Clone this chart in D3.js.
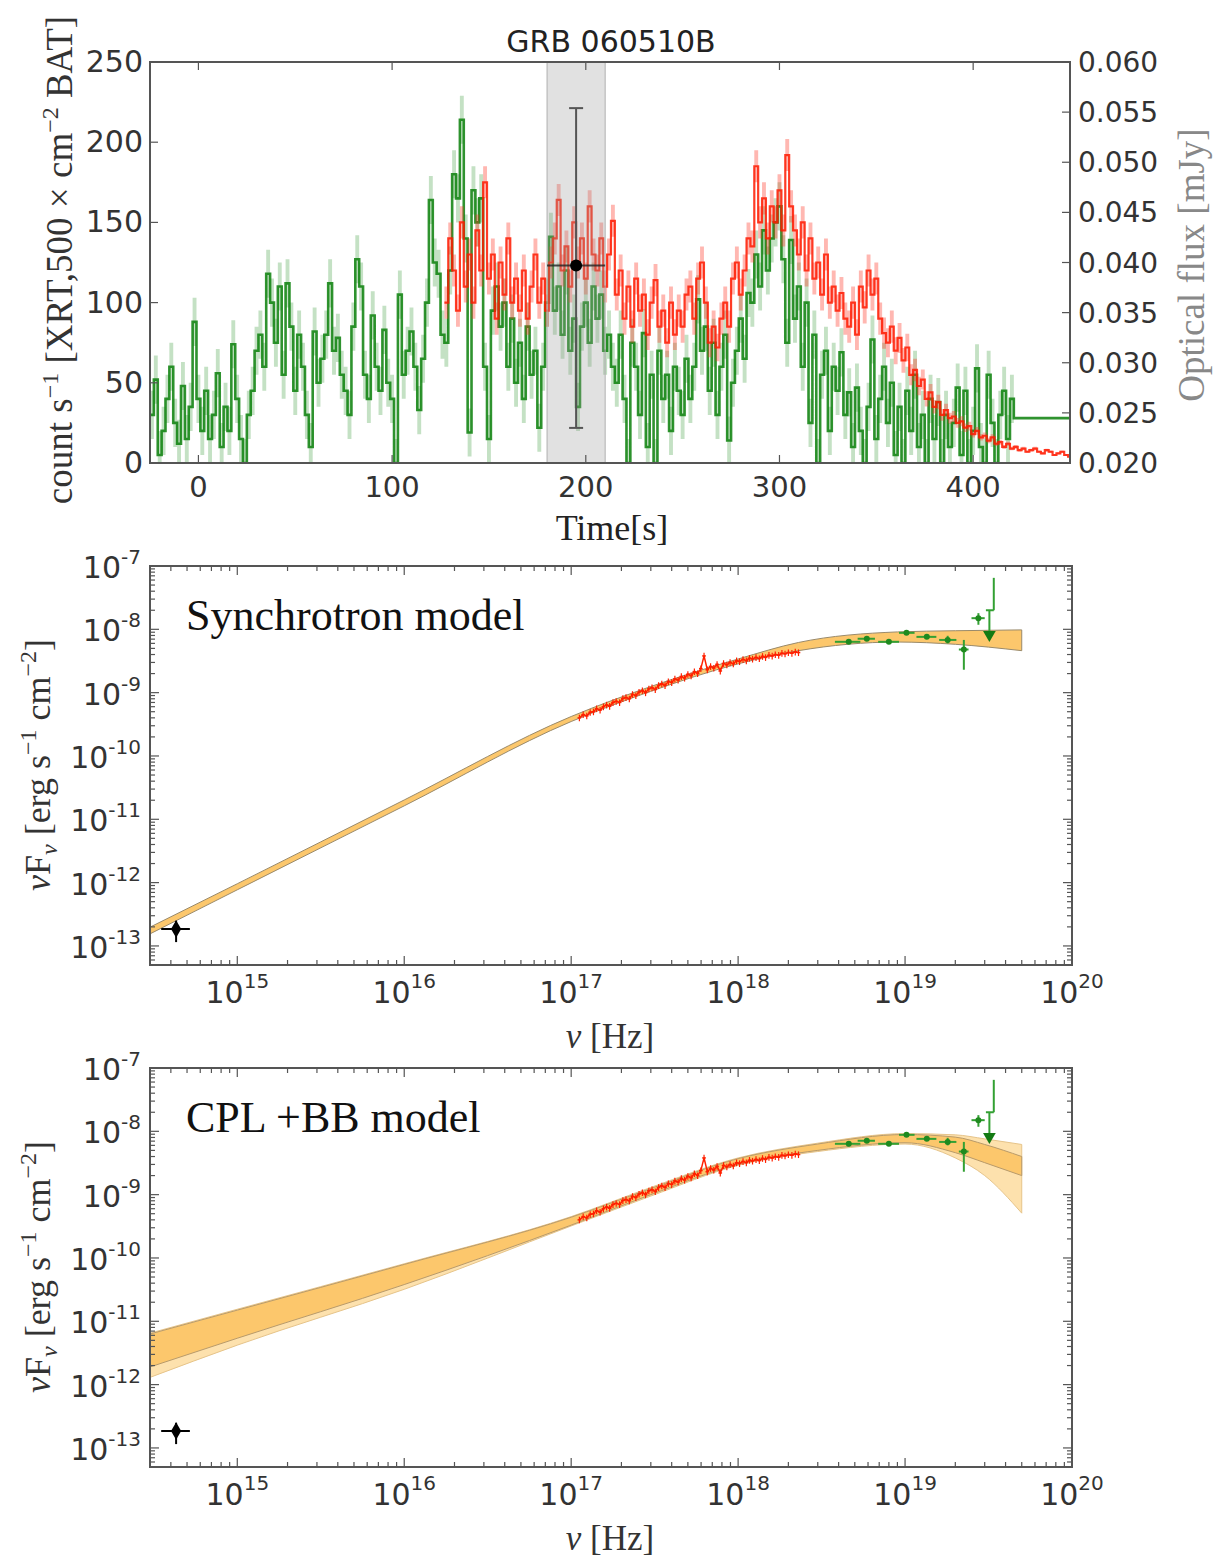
<!DOCTYPE html>
<html>
<head>
<meta charset="utf-8">
<script src="https://cdn.jsdelivr.net/npm/d3@7"></script>
<style>
body { margin: 0; background: #fff; }
</style>
</head>
<body>
<svg id="fig"></svg>
<script>
// ---- light curve data (BAT green, XRT red), 2 s bins ----
let bat_t0 = -25
let bat_dt = 2
let bat_err = 15
let bat_counts = [30,52,5,20,40,60,25,12,48,15,
    35,88,40,20,45,15,30,56,10,35,
    20,74,40,15,0,30,45,70,80,60,
    118,100,75,110,55,112,85,45,80,60,
    30,10,82,50,65,80,112,70,78,55,
    45,30,85,127,110,55,40,92,60,45,
    83,50,40,0,105,55,70,82,60,33,
    65,100,164,125,118,80,75,120,180,165,
    214,140,19,170,150,165,60,15,95,110,
    85,100,60,90,50,75,40,85,55,70,
    22,60,100,141,95,110,80,120,70,90,
    35,85,100,75,110,90,105,70,80,60,
    50,80,40,0,75,60,30,81,10,55,
    0,70,40,55,20,60,45,30,65,40,
    60,102,70,85,45,75,30,60,80,14,
    50,70,90,65,106,100,130,110,145,120,
    140,150,160,127,75,139,90,110,60,100,
    25,80,0,55,70,20,60,45,69,30,
    44,10,47,20,0,35,77,15,40,60,
    25,50,5,35,0,45,20,55,10,30,
    0,40,15,38,0,30,10,25,47,5,
    45,0,20,59,10,0,55,25,0,30,
    45,15,40,
    28,28,28,28,28,28,28,28,28,28,28,28,28,28,28]

let xrt_t0 = 127
let xrt_dt = 2
let xrt_err = 10
let xrt_counts = [100,140,120,95,150,110,130,100,145,120,
    175,115,130,90,125,105,140,100,115,95,
    120,90,110,130,100,115,95,125,140,164,
    120,135,110,150,125,140,115,160,130,120,
    140,110,130,151,105,120,90,110,85,115,
    95,105,80,100,114,85,95,75,100,80,
    95,85,105,110,90,115,125,100,75,85,
    72,90,100,85,115,125,105,120,140,135,
    185,150,165,140,160,150,170,145,192,160,
    145,130,150,120,140,115,125,105,130,100,
    110,95,106,90,85,100,80,110,97,120,
    105,115,90,81,75,85,70,78,64,72,
    55,58,48,52,40,44,35,38,30,33,
    28,29,25,26,22,23,18,20,16,17,
    14,16,12,13,10,12,9,10,8,9,
    7,8,9,7,6,8,7,5,6,7,5,4]

let sed_window = [180, 210]
let opt_time = [195, 180, 210]          // t, t_lo, t_hi
let opt_flux = [0.0397, 0.0235, 0.0554] // flux, lo, hi

let time_ticks = [0, 100, 200, 300, 400]
let count_ticks = [0, 50, 100, 150, 200, 250]
let optflux_ticks = [0.020, 0.025, 0.030, 0.035, 0.040, 0.045, 0.050, 0.055, 0.060]

// ---- SED data ----
let uvot_nu = [4.3e14], uvot_nu_lo = [3.5e14], uvot_nu_hi = [5.2e14]
let uvot_f = [1.85e-13], uvot_f_lo = [1.15e-13], uvot_f_hi = [2.5e-13]

let xrt_nu = [1.12e17,1.18e17,1.24e17,1.30e17,1.36e17,1.42e17,1.49e17,1.56e17,1.63e17,1.70e17,
    1.78e17,1.86e17,1.95e17,2.04e17,2.13e17,2.23e17,2.33e17,2.44e17,2.55e17,2.67e17,
    2.79e17,2.92e17,3.05e17,3.19e17,3.34e17,3.49e17,3.65e17,3.82e17,4.0e17,4.18e17,
    4.37e17,4.57e17,4.78e17,5.0e17,5.23e17,5.47e17,5.72e17,5.98e17,6.25e17,6.54e17,
    6.84e17,7.15e17,7.48e17,7.82e17,8.18e17,8.56e17,8.95e17,9.36e17,9.79e17,1.02e18,
    1.07e18,1.12e18,1.17e18,1.22e18,1.28e18,1.34e18,1.40e18,1.46e18,1.53e18,1.60e18,
    1.67e18,1.75e18,1.83e18,1.91e18,2.0e18,2.1e18,2.2e18,2.3e18]
let xrt_f = [4.0e-10,4.5e-10,4.3e-10,4.9e-10,5.0e-10,5.6e-10,5.3e-10,6.0e-10,6.4e-10,6.1e-10,
    7.0e-10,7.3e-10,7.0e-10,8.1e-10,8.4e-10,8.0e-10,9.4e-10,9.0e-10,1.02e-9,1.08e-9,
    1.0e-9,1.15e-9,1.2e-9,1.12e-9,1.3e-9,1.38e-9,1.3e-9,1.5e-9,1.45e-9,1.65e-9,
    1.58e-9,1.8e-9,1.7e-9,1.95e-9,1.85e-9,2.15e-9,2.0e-9,2.4e-9,3.8e-9,2.3e-9,
    2.6e-9,2.45e-9,2.8e-9,2.2e-9,2.9e-9,2.75e-9,3.0e-9,2.85e-9,3.2e-9,3.1e-9,
    3.35e-9,3.2e-9,3.5e-9,3.4e-9,3.6e-9,3.45e-9,3.75e-9,3.6e-9,3.9e-9,3.8e-9,
    4.0e-9,3.9e-9,4.2e-9,4.1e-9,4.3e-9,4.2e-9,4.4e-9,4.3e-9]

let bat_nu    = [4.6e18,5.9e18,8.0e18,1.02e19,1.35e19,1.8e19,2.25e19,2.75e19,3.2e19,3.4e19]
let bat_nu_lo = [3.8e18,5.2e18,6.9e18,9.2e18,1.17e19,1.6e19,2.1e19,2.5e19,3.2e19,3.05e19]
let bat_nu_hi = [5.4e18,6.6e18,9.2e18,1.14e19,1.54e19,2.03e19,2.4e19,3.0e19,3.2e19,3.4e19]
let bat_f     = [6.35e-9,7.1e-9,6.35e-9,8.8e-9,7.6e-9,6.8e-9,4.8e-9,1.5e-8,8.2e-9,2.0e-8]
let bat_f_lo  = [6.0e-9,6.7e-9,6.0e-9,8.3e-9,7.2e-9,6.0e-9,2.3e-9,1.18e-8,8.2e-9,2.0e-8]
let bat_f_hi  = [6.8e-9,7.5e-9,6.8e-9,9.3e-9,8.0e-9,7.9e-9,6.8e-9,1.8e-8,2.0e-8,6.5e-8]
let bat_mark  = ['o','o','o','o','o','o','o','o','v','']

// synchrotron model band
let syn_nu = [3e14,1e15,1e16,1e17,3e17,1e18,2.3e18,9e18,2e19,5e19]
let syn_lo = [1.55e-13,7.7e-13,1.63e-11,3.5e-10,1.05e-9,2.85e-9,4.6e-9,6.3e-9,5.8e-9,4.6e-9]
let syn_hi = [1.98e-13,9.6e-13,2.02e-11,4.2e-10,1.25e-9,3.4e-9,6.2e-9,9.1e-9,9.5e-9,9.8e-9]

// CPL + BB model bands
let cpl_nu       = [3e14,1e15,1e16,1e17,3e17,1e18,3e18,1e19,2e19,3e19,5e19]
let cpl_outer_lo = [1.3e-12,4.2e-12,3.2e-11,3.2e-10,9.5e-10,2.9e-9,4.8e-9,6.3e-9,3.8e-9,2.0e-9,5.1e-10]
let cpl_inner_lo = [1.9e-12,5.4e-12,3.8e-11,3.3e-10,1.0e-9,3.0e-9,5.0e-9,6.6e-9,4.6e-9,3.2e-9,2.0e-9]
let cpl_inner_hi = [6.3e-12,1.5e-11,7.9e-11,4.4e-10,1.25e-9,3.7e-9,6.3e-9,8.9e-9,8.1e-9,6.2e-9,4.0e-9]
let cpl_outer_hi = [6.5e-12,1.55e-11,8.1e-11,4.5e-10,1.3e-9,3.8e-9,6.5e-9,9.2e-9,8.8e-9,7.6e-9,6.2e-9]

let nu_ticks = [1e15,1e16,1e17,1e18,1e19,1e20]
let nufnu_ticks = [1e-13,1e-12,1e-11,1e-10,1e-9,1e-8,1e-7]

// ---------------------------------------------------------------
let sans = "DejaVu Sans"
let serif = "Liberation Serif"
let tick_col = "#333"
let frame_col = "#555"

let svg = d3.select('#fig')
    .attr('width', 1214)
    .attr('height', 1559)
    .style('font-family', sans)

// ================= top panel: light curves =================
let xT = d3.scaleLinear().domain([-25, 450]).range([150, 1070])
let yL = d3.scaleLinear().domain([0, 250]).range([463, 62])
let yR = d3.scaleLinear().domain([0.02, 0.06]).range([463, 62])

svg.append('clipPath').attr('id', 'clipTop')
    .append('rect').attr('x', 150).attr('y', 62).attr('width', 920).attr('height', 401)

let lc = svg.append('g')
let lcData = lc.append('g').attr('clip-path', 'url(#clipTop)')

let stepLine = d3.line()
    .x(function(d){ return xT(d[0]) })
    .y(function(d){ return yL(d[1]) })
    .curve(d3.curveStepAfter)

// error strip around a step curve; the strip never exceeds a fraction of the value for faint bins
function stepArea(err, frac) {
    return d3.area()
        .x(function(d){ return xT(d[0]) })
        .y0(function(d){ return yL(Math.max(0, d[1] - Math.min(err, d[1] * frac))) })
        .y1(function(d){ return yL(d[1] + Math.min(err, Math.max(d[1], 1) * frac)) })
        .curve(d3.curveStepAfter)
}

let batPts = bat_counts.map(function(c, i){ return [bat_t0 + i * bat_dt, c] })
batPts.push([bat_t0 + bat_counts.length * bat_dt, bat_counts[bat_counts.length - 1]])
let xrtPts = xrt_counts.map(function(c, i){ return [xrt_t0 + i * xrt_dt, c] })
xrtPts.push([xrt_t0 + xrt_counts.length * xrt_dt, xrt_counts[xrt_counts.length - 1]])

lcData.append('path').datum(batPts.slice(0, 224))
    .attr('d', stepArea(bat_err, 100))
    .attr('fill', '#3a9a3a')
    .attr('fill-opacity', 0.3)

lcData.append('path').datum(batPts)
    .attr('d', stepLine)
    .attr('fill', 'none')
    .attr('stroke', '#0a800a')
    .attr('stroke-width', 2.6)
    .attr('stroke-opacity', 0.85)

lcData.append('path').datum(xrtPts)
    .attr('d', stepArea(xrt_err, 0.12))
    .attr('fill', '#ff3020')
    .attr('fill-opacity', 0.35)

lcData.append('path').datum(xrtPts)
    .attr('d', stepLine)
    .attr('fill', 'none')
    .attr('stroke', '#ff1a00')
    .attr('stroke-width', 2.2)
    .attr('stroke-opacity', 0.85)

// grey window of the SED
lcData.append('rect')
    .attr('x', xT(sed_window[0]))
    .attr('y', 62)
    .attr('width', xT(sed_window[1]) - xT(sed_window[0]))
    .attr('height', 401)
    .attr('fill', '#9a9a9a')
    .attr('fill-opacity', 0.3)
    .attr('stroke', '#b0b0b0')
    .attr('stroke-width', 1)

// optical point with error bars (right axis)
let ox = xT(opt_time[0]), oy = yR(opt_flux[0])
lc.append('line')
    .attr('x1', ox).attr('x2', ox)
    .attr('y1', yR(opt_flux[1])).attr('y2', yR(opt_flux[2]))
    .attr('stroke', '#555').attr('stroke-width', 2)
lc.selectAll('line.cap').data([opt_flux[1], opt_flux[2]]).enter()
    .append('line')
    .attr('x1', ox - 7).attr('x2', ox + 7)
    .attr('y1', function(d){ return yR(d) }).attr('y2', function(d){ return yR(d) })
    .attr('stroke', '#555').attr('stroke-width', 2)
lc.append('line')
    .attr('x1', xT(opt_time[1])).attr('x2', xT(opt_time[2]))
    .attr('y1', oy).attr('y2', oy)
    .attr('stroke', '#222').attr('stroke-width', 2).attr('stroke-opacity', 0.8)
lc.append('circle').attr('cx', ox).attr('cy', oy).attr('r', 6).attr('fill', '#000')

// frame + ticks
lc.append('rect').attr('x', 150).attr('y', 62).attr('width', 920).attr('height', 401)
    .attr('fill', 'none').attr('stroke', frame_col).attr('stroke-width', 2)

time_ticks.forEach(function(t){
    let x = xT(t)
    lc.append('line').attr('x1', x).attr('x2', x).attr('y1', 463).attr('y2', 455)
        .attr('stroke', frame_col).attr('stroke-width', 1.2)
    lc.append('line').attr('x1', x).attr('x2', x).attr('y1', 62).attr('y2', 70)
        .attr('stroke', frame_col).attr('stroke-width', 1.2)
    lc.append('text').attr('x', x).attr('y', 497)
        .attr('text-anchor', 'middle').attr('font-size', 29).attr('fill', tick_col)
        .text(t)
})
count_ticks.forEach(function(c){
    let y = yL(c)
    lc.append('line').attr('x1', 150).attr('x2', 158).attr('y1', y).attr('y2', y)
        .attr('stroke', frame_col).attr('stroke-width', 1.2)
    lc.append('text').attr('x', 143).attr('y', y + 10)
        .attr('text-anchor', 'end').attr('font-size', 30).attr('fill', tick_col)
        .text(c)
})
optflux_ticks.forEach(function(f){
    let y = yR(f)
    lc.append('line').attr('x1', 1062).attr('x2', 1070).attr('y1', y).attr('y2', y)
        .attr('stroke', frame_col).attr('stroke-width', 1.2)
    lc.append('text').attr('x', 1078).attr('y', y + 10)
        .attr('text-anchor', 'start').attr('font-size', 28).attr('fill', tick_col)
        .text(d3.format('.3f')(f))
})

lc.append('text').attr('x', 611).attr('y', 52).attr('text-anchor', 'middle')
    .attr('font-size', 30).attr('fill', '#222').text('GRB 060510B')

lc.append('text').attr('x', 612).attr('y', 540).attr('text-anchor', 'middle')
    .attr('font-family', serif).attr('font-size', 36).attr('fill', '#222').text('Time[s]')

// left label (rotated)
let ll = lc.append('text')
    .attr('transform', 'translate(72,260) rotate(-90)')
    .attr('text-anchor', 'middle')
    .attr('font-family', serif).attr('font-size', 37).attr('fill', '#333')
ll.append('tspan').text('count s')
ll.append('tspan').attr('dy', -14).attr('font-size', 24).text('\u22121')
ll.append('tspan').attr('dy', 14).text(' [XRT,500 \u00d7 cm')
ll.append('tspan').attr('dy', -14).attr('font-size', 24).text('\u22122')
ll.append('tspan').attr('dy', 14).text(' BAT]')

lc.append('text')
    .attr('transform', 'translate(1204,265) rotate(-90)')
    .attr('text-anchor', 'middle')
    .attr('font-family', serif).attr('font-size', 37).attr('fill', '#888')
    .text('Optical flux [mJy]')

// ================= SED panels =================
function sedPanel(top_y, name, drawModel) {
    let x = d3.scaleLog().domain([3e14, 1e20]).range([150, 1072])
    let y = d3.scaleLog().domain([5e-14, 1e-7]).range([top_y + 399, top_y])
    let g = svg.append('g')
    let id = 'clip' + Math.round(top_y)
    svg.append('clipPath').attr('id', id)
        .append('rect').attr('x', 150).attr('y', top_y).attr('width', 922).attr('height', 399)
    let gd = g.append('g').attr('clip-path', 'url(#' + id + ')')

    drawModel(gd, x, y)

    // XRT points: jagged line with small error bars
    gd.append('path').datum(xrt_nu.map(function(n, i){ return [n, xrt_f[i]] }))
        .attr('d', d3.line().x(function(d){ return x(d[0]) }).y(function(d){ return y(d[1]) }))
        .attr('fill', 'none').attr('stroke', '#ff2000').attr('stroke-width', 1.5)
    xrt_nu.forEach(function(n, i){
        let cx = x(n), cy = y(xrt_f[i])
        gd.append('line').attr('x1', x(n * 0.975)).attr('x2', x(n * 1.025))
            .attr('y1', cy).attr('y2', cy).attr('stroke', '#ff2000').attr('stroke-width', 1.5)
        gd.append('line').attr('x1', cx).attr('x2', cx)
            .attr('y1', y(xrt_f[i] * 0.88)).attr('y2', y(xrt_f[i] * 1.12))
            .attr('stroke', '#ff2000').attr('stroke-width', 1.2)
    })

    // BAT points
    bat_nu.forEach(function(n, i){
        let cx = x(n), cy = y(bat_f[i])
        let col = '#33a033'
        gd.append('line').attr('x1', x(bat_nu_lo[i])).attr('x2', x(bat_nu_hi[i]))
            .attr('y1', cy).attr('y2', cy).attr('stroke', col).attr('stroke-width', 2)
        gd.append('line').attr('x1', cx).attr('x2', cx)
            .attr('y1', y(bat_f_lo[i])).attr('y2', y(bat_f_hi[i]))
            .attr('stroke', col).attr('stroke-width', 2)
        if (bat_mark[i] == 'o') {
            gd.append('circle').attr('cx', cx).attr('cy', cy).attr('r', 3).attr('fill', '#1f8a1f')
        } else if (bat_mark[i] == 'v') {
            gd.append('path').attr('d', d3.symbol().type(d3.symbolTriangle).size(70)())
                .attr('transform', 'translate(' + cx + ',' + cy + ') rotate(180)')
                .attr('fill', '#137a13')
        }
    })

    // UVOT point
    uvot_nu.forEach(function(n, i){
        let cx = x(n), cy = y(uvot_f[i])
        gd.append('line').attr('x1', x(uvot_nu_lo[i])).attr('x2', x(uvot_nu_hi[i]))
            .attr('y1', cy).attr('y2', cy).attr('stroke', '#000').attr('stroke-width', 2)
        gd.append('line').attr('x1', cx).attr('x2', cx)
            .attr('y1', y(uvot_f_lo[i])).attr('y2', y(uvot_f_hi[i]))
            .attr('stroke', '#000').attr('stroke-width', 2)
        gd.append('path').attr('d', d3.symbol().type(d3.symbolDiamond).size(90)())
            .attr('transform', 'translate(' + cx + ',' + cy + ')').attr('fill', '#000')
    })

    // frame
    g.append('rect').attr('x', 150).attr('y', top_y).attr('width', 922).attr('height', 399)
        .attr('fill', 'none').attr('stroke', frame_col).attr('stroke-width', 2)

    x.ticks().forEach(function(v){
        let lg = Math.log10(v)
        let major = Math.abs(lg - Math.round(lg)) < 1e-6
        let len = major ? 9 : 5
        let px = x(v)
        if (px < 151 || px > 1071) return
        g.append('line').attr('x1', px).attr('x2', px).attr('y1', top_y + 399).attr('y2', top_y + 399 - len)
            .attr('stroke', frame_col).attr('stroke-width', 1.2)
        g.append('line').attr('x1', px).attr('x2', px).attr('y1', top_y).attr('y2', top_y + len)
            .attr('stroke', frame_col).attr('stroke-width', 1.2)
    })
    y.ticks().forEach(function(v){
        let lg = Math.log10(v)
        let major = Math.abs(lg - Math.round(lg)) < 1e-6
        let len = major ? 9 : 5
        let py = y(v)
        if (py < top_y + 1 || py > top_y + 398) return
        g.append('line').attr('x1', 150).attr('x2', 150 + len).attr('y1', py).attr('y2', py)
            .attr('stroke', frame_col).attr('stroke-width', 1.2)
        g.append('line').attr('x1', 1072).attr('x2', 1072 - len).attr('y1', py).attr('y2', py)
            .attr('stroke', frame_col).attr('stroke-width', 1.2)
    })

    nu_ticks.forEach(function(v){
        let t = g.append('text').attr('x', x(v)).attr('y', top_y + 437)
            .attr('text-anchor', 'middle').attr('font-size', 30).attr('fill', tick_col)
        t.append('tspan').text('10')
        t.append('tspan').attr('dy', -15).attr('font-size', 20).text(Math.round(Math.log10(v)))
    })
    nufnu_ticks.forEach(function(v){
        let t = g.append('text').attr('x', 141).attr('y', y(v) + 12)
            .attr('text-anchor', 'end').attr('font-size', 30).attr('fill', tick_col)
        t.append('tspan').text('10')
        t.append('tspan').attr('dy', -14).attr('font-size', 20).text(Math.round(Math.log10(v)))
    })

    g.append('text').attr('x', 186).attr('y', top_y + 64)
        .attr('font-family', serif).attr('font-size', 44).attr('fill', '#111').text(name)

    let xl = g.append('text').attr('x', 610).attr('y', top_y + 482).attr('text-anchor', 'middle')
        .attr('font-family', serif).attr('font-size', 35).attr('fill', '#333')
    xl.append('tspan').attr('font-style', 'italic').text('\u03bd')
    xl.append('tspan').text(' [Hz]')

    let yl = g.append('text')
        .attr('transform', 'translate(50,' + (top_y + 199) + ') rotate(-90)')
        .attr('text-anchor', 'middle')
        .attr('font-family', serif).attr('font-size', 36).attr('fill', '#333')
    yl.append('tspan').attr('font-style', 'italic').text('\u03bd')
    yl.append('tspan').text('F')
    yl.append('tspan').attr('dy', 7).attr('font-size', 24).attr('font-style', 'italic').text('\u03bd')
    yl.append('tspan').attr('dy', -7).text(' [erg s')
    yl.append('tspan').attr('dy', -14).attr('font-size', 24).text('\u22121')
    yl.append('tspan').attr('dy', 14).text('  cm')
    yl.append('tspan').attr('dy', -14).attr('font-size', 24).text('\u22122')
    yl.append('tspan').attr('dy', 14).text(']')
}

function band(g, x, y, nus, lo, hi, fill, edge) {
    let area = d3.area()
        .x(function(d){ return x(d[0]) })
        .y0(function(d){ return y(d[1]) })
        .y1(function(d){ return y(d[2]) })
        .curve(d3.curveMonotoneX)
    g.append('path').datum(nus.map(function(n, i){ return [n, lo[i], hi[i]] }))
        .attr('d', area)
        .attr('fill', fill)
        .attr('stroke', edge)
        .attr('stroke-width', 1)
}

sedPanel(566, 'Synchrotron model', function(g, x, y){
    band(g, x, y, syn_nu, syn_lo, syn_hi, '#fcc76c', '#9a8a6a')
})

sedPanel(1068, 'CPL +BB model', function(g, x, y){
    band(g, x, y, cpl_nu, cpl_outer_lo, cpl_outer_hi, '#fde1ad', '#e6c48a')
    band(g, x, y, cpl_nu, cpl_inner_lo, cpl_inner_hi, '#fcc76c', '#b89a6a')
})
</script>
</body>
</html>
